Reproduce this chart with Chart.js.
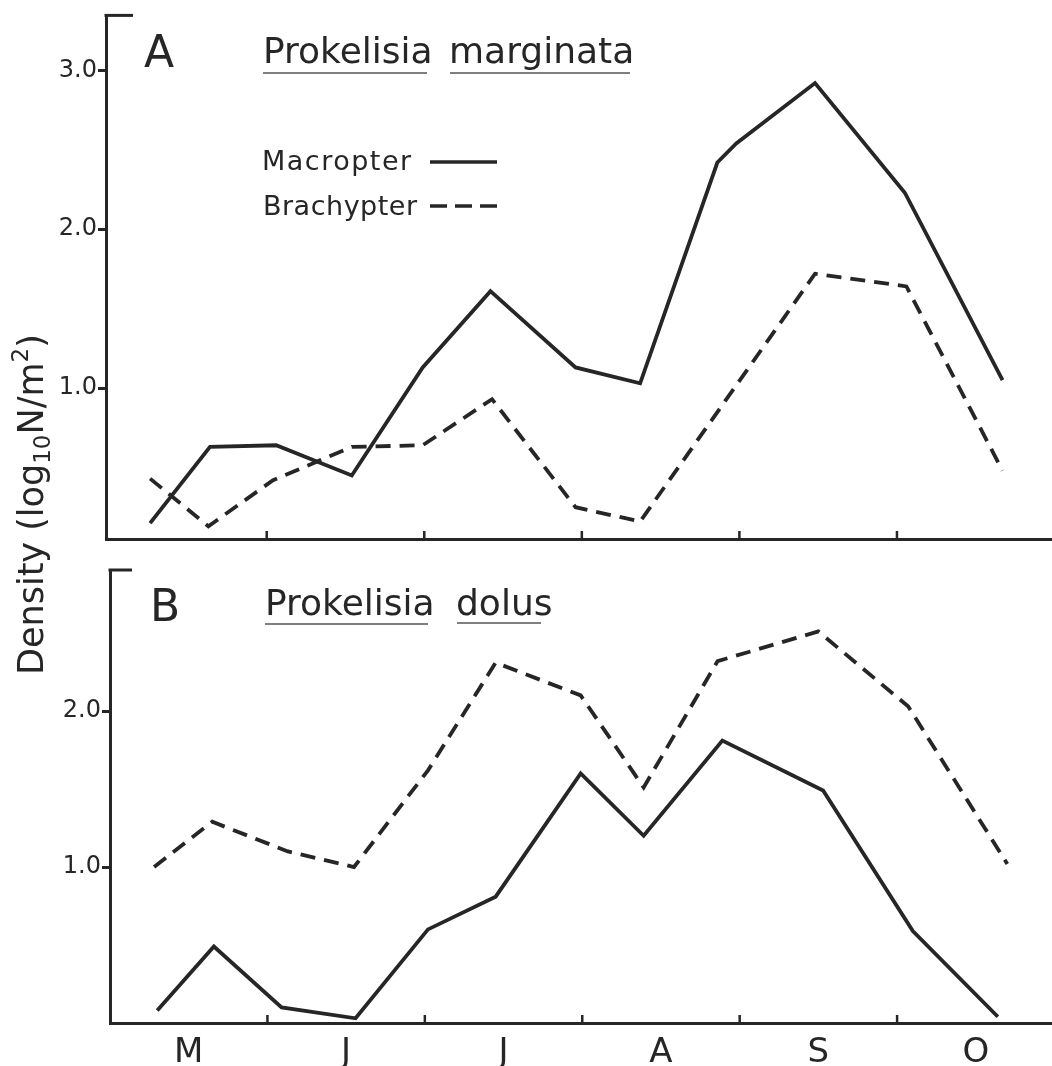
<!DOCTYPE html>
<html>
<head>
<meta charset="utf-8">
<script src="https://cdn.jsdelivr.net/npm/chart.js@4.4.1/dist/chart.umd.min.js"></script>
<style>
  html, body { margin: 0; padding: 0; background: #fff; }
  #wrap { position: relative; width: 1052px; height: 1066px; overflow: hidden; }
  canvas { position: absolute; left: 0; top: 0; }
</style>
</head>
<body>
<div id="wrap">
  <canvas id="chartA" width="1052" height="1066"></canvas>
  <canvas id="chartB" width="1052" height="1066"></canvas>
</div>
<script>
// x is in months from the start of May (0 = 1 May, 1 = 1 June ...)
const months = ['M', 'J', 'J', 'A', 'S', 'O'];
const monthCenters = [0.5, 1.5, 2.5, 3.5, 4.5, 5.5];
const monthBounds = [1, 2, 3, 4, 5];
const yTicksA = [1, 2, 3];
const yTicksB = [1, 2];

// ===== A: Prokelisia marginata =====
const aMacroX = [0.26, 0.64, 1.06, 1.54, 1.99, 2.42, 2.96, 3.37, 3.86, 3.98, 4.48, 5.05, 5.67];
const aMacroY = [0.15, 0.63, 0.64, 0.45, 1.13, 1.61, 1.13, 1.03, 2.42, 2.54, 2.92, 2.23, 1.05];
const aBrachyX = [0.26, 0.63, 1.04, 1.54, 1.99, 2.43, 2.96, 3.37, 4.48, 5.06, 5.67];
const aBrachyY = [0.43, 0.13, 0.42, 0.63, 0.64, 0.93, 0.25, 0.16, 1.72, 1.64, 0.48];

// ===== B: Prokelisia dolus =====
const bMacroX = [0.30, 0.66, 1.09, 1.56, 2.02, 2.45, 2.99, 3.39, 3.89, 4.53, 5.10, 5.64];
const bMacroY = [0.08, 0.49, 0.10, 0.03, 0.60, 0.81, 1.60, 1.20, 1.81, 1.49, 0.59, 0.04];
const bBrachyX = [0.28, 0.65, 1.13, 1.55, 2.02, 2.45, 2.99, 3.39, 3.86, 4.50, 5.07, 5.70];
const bBrachyY = [1.00, 1.29, 1.10, 1.00, 1.62, 2.31, 2.10, 1.51, 2.32, 2.51, 2.03, 1.02];

const INK = '#262626';
const FONT = "'DejaVu Sans', sans-serif";
Chart.defaults.font.family = FONT;
Chart.defaults.color = INK;

function lineSet(label, xs, ys, dashed) {
  return {
    label,
    data: xs.map((x, i) => ({ x, y: ys[i] })),
    borderColor: INK,
    borderWidth: 3.8,
    borderDash: dashed ? [15, 9] : [],
    borderJoinStyle: 'miter',
    pointRadius: 0,
    tension: 0,
    fill: false,
    clip: false
  };
}

function text(ctx, str, x, y, size, align, spacing) {
  ctx.save();
  ctx.font = `${size}px ${FONT}`;
  ctx.textAlign = align || 'left';
  ctx.textBaseline = 'alphabetic';
  ctx.fillStyle = INK;
  if (spacing) ctx.letterSpacing = spacing + 'px';
  ctx.fillText(str, x, y);
  ctx.restore();
}

function underline(ctx, x1, x2, y) {
  ctx.save();
  ctx.strokeStyle = '#555';
  ctx.lineWidth = 1.5;
  ctx.beginPath(); ctx.moveTo(x1, y); ctx.lineTo(x2, y); ctx.stroke();
  ctx.restore();
}

// top bracket of the y axis + inward x ticks at month boundaries
function drawFrame(chart, bracketTo) {
  const ctx = chart.ctx;
  const { left, top, bottom } = chart.chartArea;
  const xs = chart.scales.x;
  ctx.save();
  ctx.strokeStyle = INK;
  ctx.lineWidth = 3;
  ctx.beginPath(); ctx.moveTo(left - 1.5, top); ctx.lineTo(bracketTo, top); ctx.stroke();
  ctx.lineWidth = 2.5;
  monthBounds.forEach(v => {
    const px = xs.getPixelForValue(v);
    ctx.beginPath(); ctx.moveTo(px, bottom); ctx.lineTo(px, bottom - 8); ctx.stroke();
  });
  ctx.restore();
}

const decorA = {
  id: 'decorA',
  afterDraw(chart) {
    const ctx = chart.ctx;
    drawFrame(chart, 133);
    text(ctx, 'A', 144, 67, 44);
    text(ctx, 'Prokelisia', 263, 63, 36);
    underline(ctx, 263, 427, 73);
    text(ctx, 'marginata', 449, 63, 36);
    underline(ctx, 450, 630, 73);

    // legend
    text(ctx, 'Macropter', 262, 170, 27, 'left', 1.5);
    text(ctx, 'Brachypter', 263, 215, 27, 'left', 0.5);
    ctx.save();
    ctx.strokeStyle = INK;
    ctx.lineWidth = 3.5;
    ctx.beginPath(); ctx.moveTo(430, 162); ctx.lineTo(497, 162); ctx.stroke();
    ctx.setLineDash([17, 8]);
    ctx.beginPath(); ctx.moveTo(430, 206); ctx.lineTo(497, 206); ctx.stroke();
    ctx.restore();

    // shared y title: Density (log10 N/m2)
    ctx.save();
    ctx.translate(43, 675);
    ctx.rotate(-Math.PI / 2);
    let x = 0;
    const part = (s, size, dy) => {
      ctx.font = `${size}px ${FONT}`;
      ctx.textAlign = 'left';
      ctx.fillStyle = INK;
      ctx.fillText(s, x, dy);
      x += ctx.measureText(s).width;
    };
    part('Density (log', 35, 0);
    part('10', 23, 7);
    part('N/m', 35, 0);
    part('2', 23, -15);
    part(')', 35, 0);
    ctx.restore();
  }
};

const decorB = {
  id: 'decorB',
  afterDraw(chart) {
    const ctx = chart.ctx;
    drawFrame(chart, 132);
    text(ctx, 'B', 150, 621, 44);
    text(ctx, 'Prokelisia', 265, 615, 36);
    underline(ctx, 265, 428, 624);
    text(ctx, 'dolus', 456, 615, 36);
    underline(ctx, 457, 541, 623);
  }
};

function yAxis(min, max, ticks, width) {
  return {
    type: 'linear',
    min, max,
    afterBuildTicks: s => { s.ticks = ticks.map(v => ({ value: v })); },
    afterFit: s => { s.width = width; },
    ticks: { font: { size: 24 }, color: INK, padding: 1, callback: v => v.toFixed(1) },
    grid: { drawOnChartArea: false, drawTicks: true, tickLength: 8, lineWidth: 3, color: INK },
    border: { display: true, width: 3, color: INK }
  };
}

// ===== Panel A =====
new Chart(document.getElementById('chartA').getContext('2d'), {
  type: 'line',
  data: {
    datasets: [
      lineSet('Macropter', aMacroX, aMacroY, false),
      lineSet('Brachypter', aBrachyX, aBrachyY, true)
    ]
  },
  options: {
    responsive: false,
    animation: false,
    devicePixelRatio: 1,
    layout: { padding: { top: 15, right: 0, bottom: 527, left: 0 } },
    plugins: { legend: { display: false }, tooltip: { enabled: false } },
    scales: {
      x: {
        type: 'linear', min: -0.02, max: 5.984,
        ticks: { display: false },
        grid: { display: false },
        border: { display: true, width: 3, color: INK },
        afterFit: s => { s.height = 0; }
      },
      y: yAxis(0.05, 3.346, yTicksA, 106)
    }
  },
  plugins: [decorA]
});

// ===== Panel B =====
new Chart(document.getElementById('chartB').getContext('2d'), {
  type: 'line',
  data: {
    datasets: [
      lineSet('Macropter', bMacroX, bMacroY, false),
      lineSet('Brachypter', bBrachyX, bBrachyY, true)
    ]
  },
  options: {
    responsive: false,
    animation: false,
    devicePixelRatio: 1,
    layout: { padding: { top: 570, right: 0, bottom: 0, left: 0 } },
    plugins: { legend: { display: false }, tooltip: { enabled: false } },
    scales: {
      x: {
        type: 'linear', min: 0, max: 5.984,
        afterBuildTicks: s => { s.ticks = monthCenters.map(v => ({ value: v })); },
        afterFit: s => { s.height = 43; },
        ticks: {
          font: { size: 34 }, color: INK, padding: 2,
          autoSkip: false, maxRotation: 0,
          callback: (v, i) => months[i]
        },
        grid: { display: false },
        border: { display: true, width: 3, color: INK }
      },
      y: yAxis(0, 2.904, yTicksB, 110)
    }
  },
  plugins: [decorB]
});
</script>
</body>
</html>
